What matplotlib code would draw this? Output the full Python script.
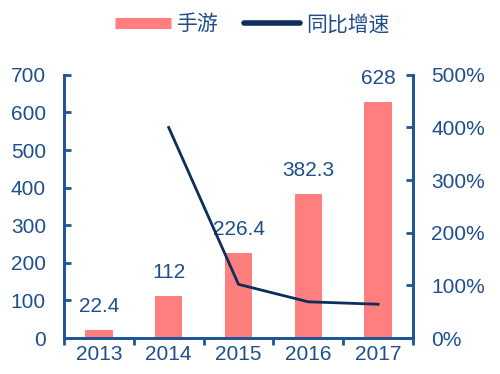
import numpy as np
import matplotlib
matplotlib.use('Agg')
import matplotlib.pyplot as plt
from matplotlib.lines import Line2D

plt.rcParams['font.family'] = ['Liberation Sans', 'Noto Sans CJK SC']

years = ['2013', '2014', '2015', '2016', '2017']
revenue = [22.4, 112, 226.4, 382.3, 628]
revenue_labels = ['22.4', '112', '226.4', '382.3', '628']
growth = [np.nan, 400, 102.1, 68.9, 64.3]

text_color = '#1F4E8C'
axis_color = '#1F5596'
bar_color = '#FF7F7F'
line_color = '#0B2E5B'

fig = plt.figure(figsize=(5, 3.74), dpi=100)
ax = fig.add_axes([0.128, 0.096, 0.698, 0.704])
ax2 = ax.twinx()

x = np.arange(len(years))
ax.bar(x, revenue, width=0.39, color=bar_color, zorder=2)
for xi, v, lab in zip(x, revenue, revenue_labels):
    ax.annotate(lab, (xi, v), xytext=(0, 10), textcoords='offset points',
                ha='center', va='bottom', fontsize=15, color=text_color)

ax2.plot(x, growth, color=line_color, linewidth=2, zorder=3)

ax.set_xlim(-0.5, 4.5)
ax.set_ylim(0, 700)
ax.set_yticks(np.arange(0, 701, 100))
ax2.set_ylim(0, 500)
ax2.set_yticks(np.arange(0, 501, 100))
ax2.set_yticklabels([f'{v}%' for v in range(0, 501, 100)])

ax.set_xticks(x)
ax.set_xticklabels(years)
ax.set_xticks(np.arange(-0.5, 5, 1), minor=True)
ax.tick_params(axis='x', which='major', length=0, pad=5, labelsize=15, labelcolor=text_color)
ax.tick_params(axis='x', which='minor', length=5, width=2, direction='out', color=axis_color)
ax.tick_params(axis='y', length=5, width=2, direction='in', color=axis_color,
               labelsize=15, labelcolor=text_color, pad=13)
ax2.tick_params(axis='y', length=5, width=2, direction='in', color=axis_color,
                labelsize=15, labelcolor=text_color, pad=13)

for a in (ax, ax2):
    a.spines['top'].set_visible(False)
    for s in ('left', 'right', 'bottom'):
        a.spines[s].set_color(axis_color)
        a.spines[s].set_linewidth(2)

handles = [Line2D([0], [0], color=bar_color, linewidth=8, solid_capstyle='butt'),
           Line2D([0], [0], color=line_color, linewidth=4, solid_capstyle='round')]
fig.legend(handles, ['手游', '同比增速'], loc='center', bbox_to_anchor=(0.505, 0.935),
           ncol=2, frameon=False, fontsize=15, labelcolor=text_color,
           handlelength=2.7, handletextpad=0.3, columnspacing=1.2)

fig.savefig('out.png', dpi=100)
